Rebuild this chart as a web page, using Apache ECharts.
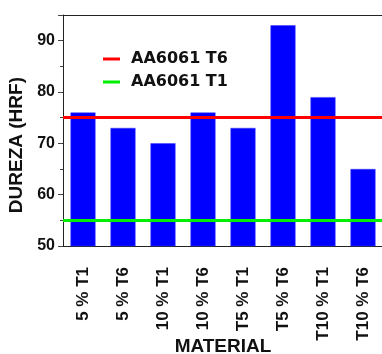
<!DOCTYPE html>
<html><head><meta charset="utf-8">
<script src="https://cdn.jsdelivr.net/npm/echarts@6/dist/echarts.min.js"></script>
<style>html,body{margin:0;padding:0;background:#fff}#c{width:382px;height:354px}</style>
</head><body><div id="c"></div>
<script>
const categories = ['5 % T1','5 % T6','10 % T1','10 % T6','T5 % T1','T5 % T6','T10 % T1','T10 % T6'];
const hardness = [76, 73, 70, 76, 73, 93, 79, 65];
const refT6 = 75;
const refT1 = 55;
const yTicks = [50, 60, 70, 80, 90];

const chart = echarts.init(document.getElementById('c'), null, {renderer:'canvas'});
const font = 'Liberation Sans, Arial, sans-serif';
chart.setOption({
  animation: false,
  grid: {left: 63, right: -1, top: 15, bottom: 108, containLabel: false, outerBoundsMode: 'none'},
  legend: {
    orient: 'vertical', left: 98, top: 46, itemGap: 7,
    itemWidth: 17, itemHeight: 3, icon: 'rect',
    textStyle: {fontFamily: 'DejaVu Sans', fontWeight: 'bold', fontSize: 16, color: '#111', padding: [0,0,0,6]},
    data: ['AA6061 T6', 'AA6061 T1']
  },
  xAxis: [{
    type: 'category', data: categories,
    axisLine: {lineStyle: {color: '#222', width: 1}},
    axisTick: {alignWithLabel: true, length: 5, lineStyle: {color: '#444'}},
    axisLabel: {rotate: 90, margin: 21, fontFamily: font, fontWeight: 'bold', fontSize: 17, color: '#111', interval: 0},
    name: 'MATERIAL', nameLocation: 'middle', nameGap: 91, nameMoveOverlap: false,
    nameTextStyle: {fontFamily: font, fontWeight: 'bold', fontSize: 19, color: '#111'}
  }, {
    type: 'category', data: categories, position: 'top',
    axisLine: {lineStyle: {color: '#222'}},
    axisTick: {alignWithLabel: true, inside: true, length: 4, lineStyle: {color: '#444'}},
    axisLabel: {show: false}
  }],
  yAxis: {
    type: 'value', min: 50, max: 95, interval: 10,
    axisLine: {show: true, lineStyle: {color: '#222'}},
    axisTick: {show: true, length: 5, lineStyle: {color: '#444'}},
    minorTick: {show: true, splitNumber: 2, length: 3, lineStyle: {color: '#444'}},
    splitLine: {show: false},
    axisLabel: {margin: 8, fontFamily: font, fontWeight: 'bold', fontSize: 16, color: '#111',
      formatter: v => yTicks.includes(v) ? String(v) : ''}
  },
  graphic: [{
    type: 'text', left: 7, top: 77,
    rotation: Math.PI / 2,
    style: {text: 'DUREZA (HRF)', font: 'bold 19px ' + font, fill: '#111'}
  }],
  series: [{
    type: 'bar', data: hardness, barWidth: 25,
    itemStyle: {color: '#0000ff', borderColor: '#3b3bff', borderWidth: 0.5}
  }, {
    name: 'AA6061 T6', type: 'line', data: [], itemStyle: {color: '#ff0000'},
    markLine: {symbol: 'none', silent: true, label: {show: false},
      lineStyle: {color: '#ff0000', width: 3, type: 'solid'}, data: [{yAxis: refT6}]}
  }, {
    name: 'AA6061 T1', type: 'line', data: [], itemStyle: {color: '#00ee00'},
    markLine: {symbol: 'none', silent: true, label: {show: false},
      lineStyle: {color: '#00ee00', width: 3, type: 'solid'}, data: [{yAxis: refT1}]}
  }]
});
</script></body></html>
